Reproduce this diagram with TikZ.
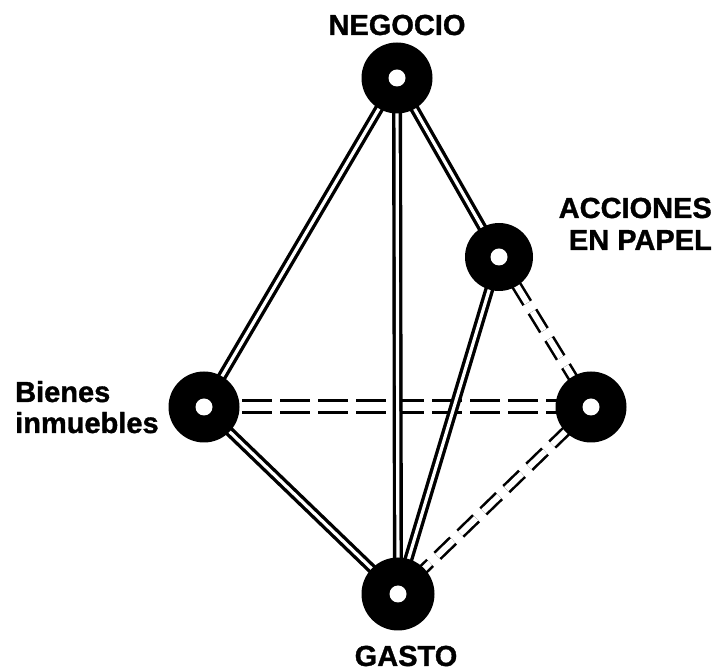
\documentclass[tikz,border=0pt]{standalone}
\usepackage{fontspec}
\setmainfont{Liberation Sans}[BoldFeatures={FakeBold=1.2}]
\begin{document}
\begin{tikzpicture}[x=1pt,y=1pt,
  dot/.style={circle,fill=black,minimum size=71pt,inner sep=0pt},
  hole/.style={circle,fill=white,minimum size=17pt,inner sep=0pt},
  solidlink/.style={draw=black,line width=3.4pt,double=white,double distance=3.2pt},
  dashlink/.style={draw=black,line width=3pt,double=white,double distance=9pt,dash pattern=on 30pt off 8pt},
  dashdiag/.style={draw=black,line width=2.6pt,double=white,double distance=6pt,dash pattern=on 22pt off 10pt},
  lab/.style={font=\bfseries\fontsize{29}{33}\selectfont,inner sep=0pt}]
\useasboundingbox (0,0) rectangle (718,672);
\coordinate (cneg) at (397,594);
\coordinate (cacc) at (499,415);
\coordinate (cbie) at (204,265);
\coordinate (crig) at (591,265);
\coordinate (cgas) at (398,78);
% dashed links (behind)
\draw[dashlink] (cbie) -- (crig);
\draw[dashdiag] (cacc) -- (crig);
\draw[dashdiag] (crig) -- (cgas);
% solid links
\draw[solidlink] (cneg) -- (cbie);
\draw[solidlink] (cneg) -- (cgas);
\draw[solidlink] (cneg) -- (cacc);
\draw[solidlink] (cacc) -- (cgas);
\draw[solidlink] (cbie) -- (cgas);
% nodes
\node[dot] (neg) at (cneg) {};
\node[dot,minimum size=68pt] (acc) at (cacc) {};
\node[dot] (bie) at (cbie) {};
\node[dot] (rig) at (crig) {};
\node[dot,minimum size=73pt] (gas) at (cgas) {};
\node[hole] (hneg) at (cneg) {};
\node[hole] (hacc) at (cacc) {};
\node[hole] (hbie) at (cbie) {};
\node[hole] (hrig) at (crig) {};
\node[hole] (hgas) at (cgas) {};
% labels
\node[lab,anchor=base] (lneg) at (397,637) {NEGOCIO};
\node[lab,anchor=base east] (lacc1) at (712,454) {ACCIONES};
\node[lab,anchor=base east] (lacc2) at (712,422) {EN PAPEL};
\node[lab,anchor=base west] (lbie1) at (15,270) {Bienes};
\node[lab,anchor=base west] (lbie2) at (15,239) {inmuebles};
\node[lab,anchor=base] (lgas) at (406,6) {GASTO};
\end{tikzpicture}
\end{document}
